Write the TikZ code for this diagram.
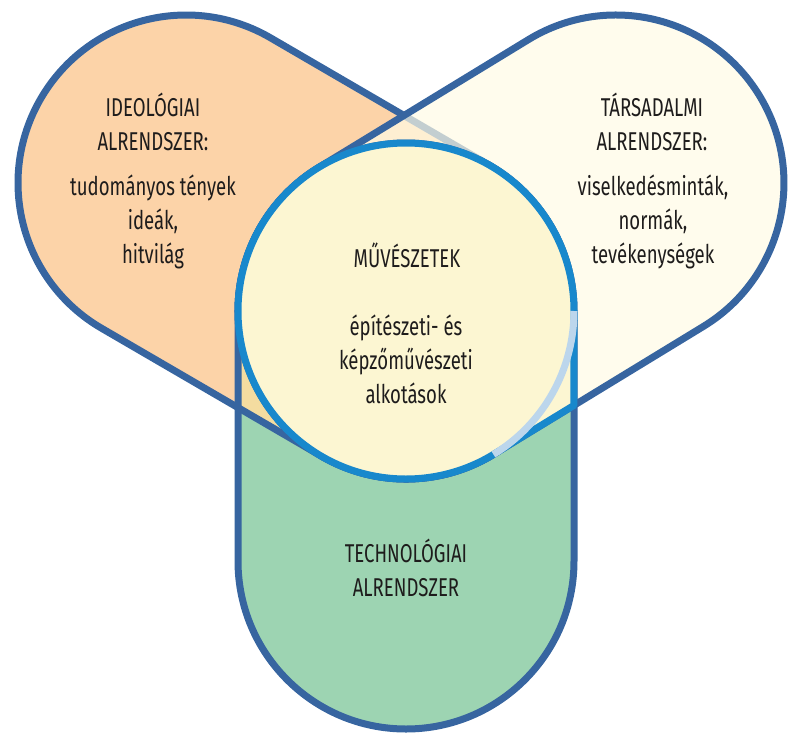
\documentclass[tikz,border=0pt]{standalone}
\usepackage{fontspec}
\setmainfont{Fira Sans}[FakeStretch=0.72]
\definecolor{lineblue}{RGB}{55,101,160}
\definecolor{brightblue}{RGB}{24,136,204}
\definecolor{fadeblue}{RGB}{188,214,236}
\definecolor{ideoorange}{RGB}{252,211,168}
\definecolor{ideotan}{RGB}{244,220,160}
\definecolor{tarsyellow}{RGB}{255,251,229}
\definecolor{artyellow}{RGB}{252,246,210}
\definecolor{techgreen}{RGB}{157,212,178}
\definecolor{inkgray}{RGB}{30,28,28}
% capsule from the middle circle (C), direction #1, length #2
\newcommand{\capsule}[2]{(C) ++(#1-90:168) -- ++(#1:#2)
  arc[start angle=#1-90, end angle=#1+90, radius=168] -- ++(#1+180:#2)
  arc[start angle=#1+90, end angle=#1+270, radius=168] -- cycle}
\tikzset{
  rim/.style={draw=lineblue, line width=2.1mm, line join=round},
  glow/.style={draw=brightblue, line width=2.1mm, line join=round},
  faint/.style={draw=fadeblue, line width=2.1mm},
  lbl/.style={align=center, text=inkgray, inner sep=0pt,
    font=\fontsize{22}{29}\selectfont}
}
\begin{document}
\begin{tikzpicture}[x=0.3mm, y=0.3mm]
\useasboundingbox (0,0) rectangle (789,-737);
\coordinate (C) at (406,-311);

% technological part (bottom)
\fill[techgreen] \capsule{-90}{250};

% ideological part (left)
\fill[ideoorange] \capsule{149.81}{254.5};
\begin{scope}
  \clip \capsule{-90}{250};
  \fill[ideotan] \capsule{149.81}{254.5};
\end{scope}
\draw[rim] \capsule{149.81}{254.5};

% social part (right)
\fill[tarsyellow, fill opacity=0.7] \capsule{31.37}{245.9};
\draw[rim] \capsule{31.37}{245.9};
\draw[rim] \capsule{-90}{250};

% arts in the middle
\filldraw[glow, fill=artyellow] (C) ++(0:168)
  arc[start angle=0, end angle=301.37, radius=168] -- ++(31.37:94.3) -- cycle;
\draw[faint] (C) ++(-58.63:168) arc[start angle=-58.63, end angle=0, radius=168];

% texts
\node[lbl] (ideohead) at (153,-122) {IDEOLÓGIAI\\ALRENDSZER:};
\node[lbl] (ideobody) at (153,-222) {tudományos tények\\ideák,\\hitvilág};
\node[lbl] (tarshead) at (652,-122) {TÁRSADALMI\\ALRENDSZER:};
\node[lbl] (tarsbody) at (653,-222) {viselkedésminták,\\normák,\\tevékenységek};
\node[lbl] (muvhead) at (407,-255) {MŰVÉSZETEK};
\node[lbl] (muvbody) at (406,-359) {építészeti- és\\képzőművészeti\\alkotások};
\node[lbl] (techhead) at (406,-568) {TECHNOLÓGIAI\\ALRENDSZER};
\end{tikzpicture}
\end{document}
